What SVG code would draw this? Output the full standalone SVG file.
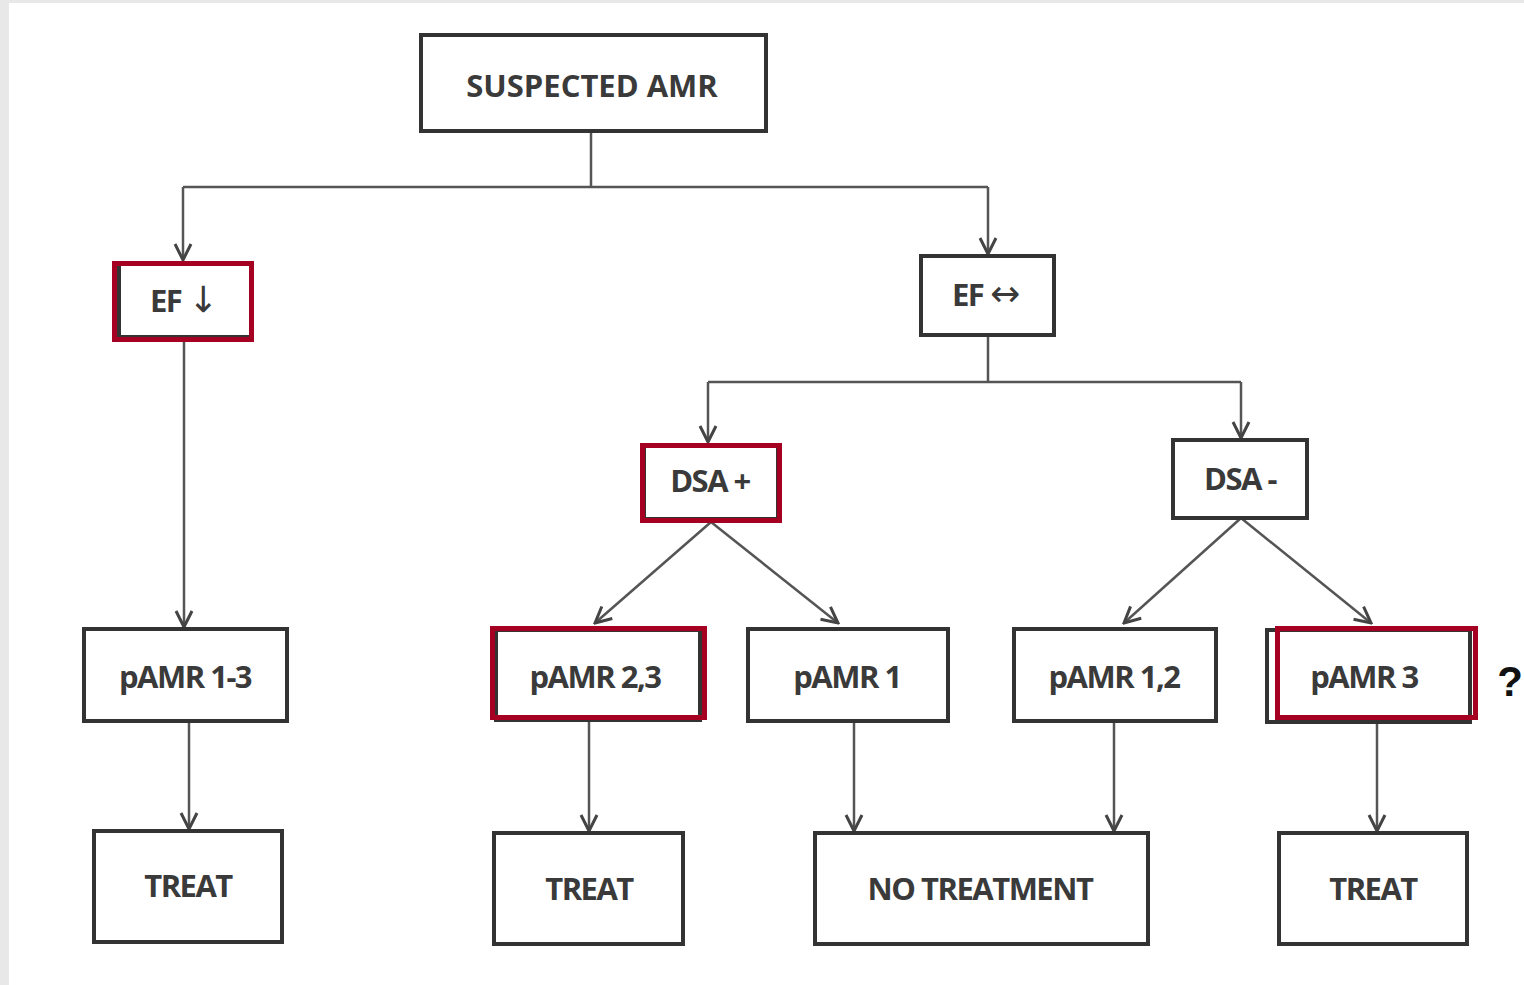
<svg xmlns="http://www.w3.org/2000/svg" width="1524" height="985" viewBox="0 0 1524 985">
<defs>
<style>
.bx{fill:#fff;stroke:#333;stroke-width:4}
.hl{fill:none;stroke:#a50021;stroke-width:5}
.t{font-family:"Open Sans","Liberation Sans",sans-serif;font-weight:700;fill:#3a3a3a;font-size:31px;text-anchor:middle;letter-spacing:-1.5px}
.ar{font-family:"DejaVu Sans",sans-serif;font-weight:400;font-size:36px;letter-spacing:0}
.c{fill:none;stroke:#555;stroke-width:2.5}
</style>
<marker id="ah" viewBox="0 0 20 20" refX="18" refY="10" markerWidth="20" markerHeight="20" markerUnits="userSpaceOnUse" orient="auto">
<path d="M2,2 L18,10 L2,18" fill="none" stroke="#444" stroke-width="3"/>
</marker>
</defs>
<rect x="0" y="0" width="1524" height="985" fill="#e8e8e8"/>
<rect x="9" y="3" width="1515" height="982" fill="#fff"/>
<g id="connectors">
<path class="c" d="M591,131 V187 M183,187 H988" />
<path class="c" d="M183,187 V260" marker-end="url(#ah)"/>
<path class="c" d="M988,187 V254" marker-end="url(#ah)"/>
<path class="c" d="M184,342 L184,627" marker-end="url(#ah)"/>
<path class="c" d="M988,335 V382 M708,382 H1241"/>
<path class="c" d="M708,382 V442" marker-end="url(#ah)"/>
<path class="c" d="M1241,382 V438" marker-end="url(#ah)"/>
<path class="c" d="M711,522 L595,623" marker-end="url(#ah)"/>
<path class="c" d="M711,522 L838,623" marker-end="url(#ah)"/>
<path class="c" d="M1241,518 L1124,623" marker-end="url(#ah)"/>
<path class="c" d="M1241,518 L1371,623" marker-end="url(#ah)"/>
<path class="c" d="M189,721 V829" marker-end="url(#ah)"/>
<path class="c" d="M589,720 V831" marker-end="url(#ah)"/>
<path class="c" d="M854,721 V831" marker-end="url(#ah)"/>
<path class="c" d="M1114,721 V831" marker-end="url(#ah)"/>
<path class="c" d="M1377,722 V831" marker-end="url(#ah)"/>
</g>
<g id="suspected"><rect class="bx" x="421" y="35" width="345" height="96"/><text class="t" x="592" y="97" font-size="34" style="letter-spacing:0">SUSPECTED AMR</text></g>
<g id="ef-down"><rect class="bx" x="119" y="263" width="132" height="74"/><rect class="hl" x="114.5" y="263.5" width="137" height="76"/><text class="t" x="184" y="312">EF <tspan class="ar">↓</tspan></text></g>
<g id="ef-eq"><rect class="bx" x="921" y="256" width="133" height="79"/><text class="t" x="986" y="306">EF <tspan class="ar">↔</tspan></text></g>
<g id="dsa-pos"><rect class="bx" x="644" y="446" width="134" height="73"/><rect class="hl" x="642.5" y="445.5" width="137" height="75"/><text class="t" x="710" y="492">DSA +</text></g>
<g id="dsa-neg"><rect class="bx" x="1173" y="440" width="134" height="78"/><text class="t" x="1240" y="490">DSA -</text></g>
<g id="pamr13"><rect class="bx" x="84" y="629" width="203" height="92"/><text class="t" x="185" y="688">pAMR 1-3</text></g>
<g id="pamr23"><rect class="bx" x="496" y="630" width="204" height="90"/><rect class="hl" x="492.5" y="628.5" width="212" height="89"/><text class="t" x="595" y="688">pAMR 2,3</text></g>
<g id="pamr1"><rect class="bx" x="748" y="629" width="200" height="92"/><text class="t" x="847" y="688">pAMR 1</text></g>
<g id="pamr12"><rect class="bx" x="1014" y="629" width="202" height="92"/><text class="t" x="1114" y="688">pAMR 1,2</text></g>
<g id="pamr3"><rect class="bx" x="1267" y="630" width="203" height="92"/><rect class="hl" x="1277.5" y="628.5" width="198" height="89"/><text class="t" x="1364" y="688">pAMR 3</text></g>
<text x="1510" y="696" font-family="Liberation Sans,sans-serif" font-weight="700" font-size="42" text-anchor="middle" fill="#111">?</text>
<g id="treat1"><rect class="bx" x="94" y="831" width="188" height="111"/><text class="t" x="188" y="897">TREAT</text></g>
<g id="treat2"><rect class="bx" x="494" y="833" width="189" height="111"/><text class="t" x="589" y="900">TREAT</text></g>
<g id="notreat"><rect class="bx" x="815" y="833" width="333" height="111"/><text class="t" x="980" y="900">NO TREATMENT</text></g>
<g id="treat3"><rect class="bx" x="1279" y="833" width="188" height="111"/><text class="t" x="1373" y="900">TREAT</text></g>
</svg>
